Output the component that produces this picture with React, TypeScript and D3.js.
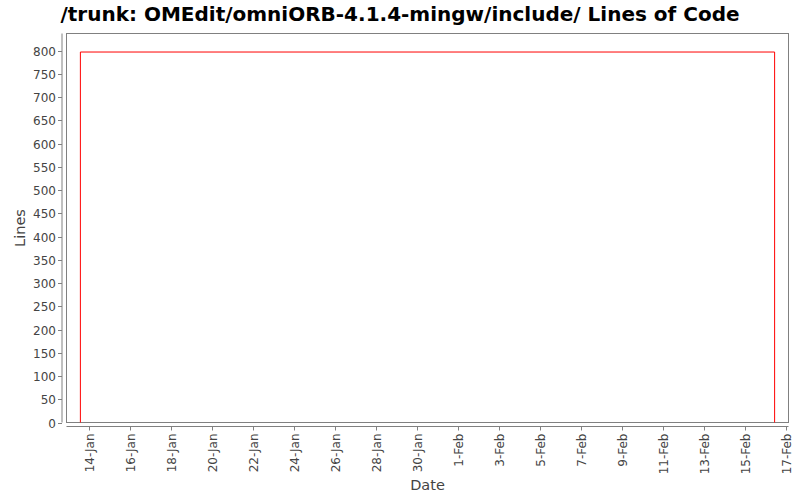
import React from 'react';
import * as d3 from 'd3';

// Lines of code over time (step chart)
const pointDates = ['2010-01-13T13:30', '2010-01-13T13:30', '2010-02-16T10:30'];
const pointLines = [0, 797, 0];
const tickDates = ['2010-01-14', '2010-01-16', '2010-01-18', '2010-01-20', '2010-01-22', '2010-01-24',
  '2010-01-26', '2010-01-28', '2010-01-30', '2010-02-01', '2010-02-03', '2010-02-05', '2010-02-07',
  '2010-02-09', '2010-02-11', '2010-02-13', '2010-02-15', '2010-02-17'];
const yTicks = d3.range(0, 801, 50);

const W = 800, H = 500;
const plot = { left: 66.5, top: 33.5, right: 788.5, bottom: 422.5 };
const font = '"DejaVu Sans", sans-serif';

const App: React.FC = () => {
  const times = pointDates.map(d => new Date(d));
  const [t0, t1] = d3.extent(times) as [Date, Date];
  const pad = (t1.getTime() - t0.getTime()) * 0.02;
  const x = d3.scaleTime()
    .domain([new Date(t0.getTime() - pad), new Date(t1.getTime() + pad)])
    .range([plot.left, plot.right]);
  const y = d3.scaleLinear()
    .domain([0, (d3.max(pointLines) || 0) * 1.05])
    .range([plot.bottom, plot.top]);

  const line = d3.line<number>()
    .x((_, i) => x(times[i]))
    .y(d => y(d))
    .curve(d3.curveStepAfter);

  const fmt = d3.timeFormat('%-d-%b');
  const xAxisY = plot.bottom + 4;
  const yAxisX = plot.left - 4.5;

  return (
    <svg width={W} height={H} style={{ position: 'absolute', left: 0, top: 0 }} fontFamily={font}>
      <rect width={W} height={H} fill="#fff" />
      <text x={W / 2} y={21} textAnchor="middle" fontSize={20} fontWeight="bold" fill="#000">
        /trunk: OMEdit/omniORB-4.1.4-mingw/include/ Lines of Code
      </text>

      <rect x={plot.left} y={plot.top} width={plot.right - plot.left} height={plot.bottom - plot.top}
        fill="#fff" stroke="#808080" strokeWidth={1} />

      {/* Y axis */}
      <line x1={yAxisX} x2={yAxisX} y1={plot.top} y2={plot.bottom} stroke="#808080" />
      {yTicks.map(v => (
        <g key={v} transform={`translate(0,${Math.round(y(v)) + 0.5})`}>
          <line x1={yAxisX - 4} x2={yAxisX} stroke="#808080" />
          <text x={yAxisX - 6} dy="0.35em" textAnchor="end" fontSize={12} fill="#444">{v}</text>
        </g>
      ))}
      <text transform={`translate(25,${(plot.top + plot.bottom) / 2}) rotate(-90)`} textAnchor="middle"
        fontSize={14.5} fill="#444">Lines</text>

      {/* X axis */}
      <line x1={plot.left} x2={plot.right} y1={xAxisY} y2={xAxisY} stroke="#808080" />
      {tickDates.map(d => {
        const tx = Math.round(x(new Date(d + 'T00:00'))) + 0.5;
        return (
          <g key={d} transform={`translate(${tx},${xAxisY})`}>
            <line y1={0} y2={4} stroke="#808080" />
            <text transform="rotate(-90)" x={-7} dy="0.35em" textAnchor="end" fontSize={12} fill="#444">
              {fmt(new Date(d + 'T00:00'))}
            </text>
          </g>
        );
      })}
      <text x={(plot.left + plot.right) / 2} y={490} textAnchor="middle" fontSize={14.5} fill="#444">Date</text>

      <path d={line(pointLines) || ''} fill="none" stroke="#ff0000" strokeWidth={1} />
    </svg>
  );
};

export default App;
